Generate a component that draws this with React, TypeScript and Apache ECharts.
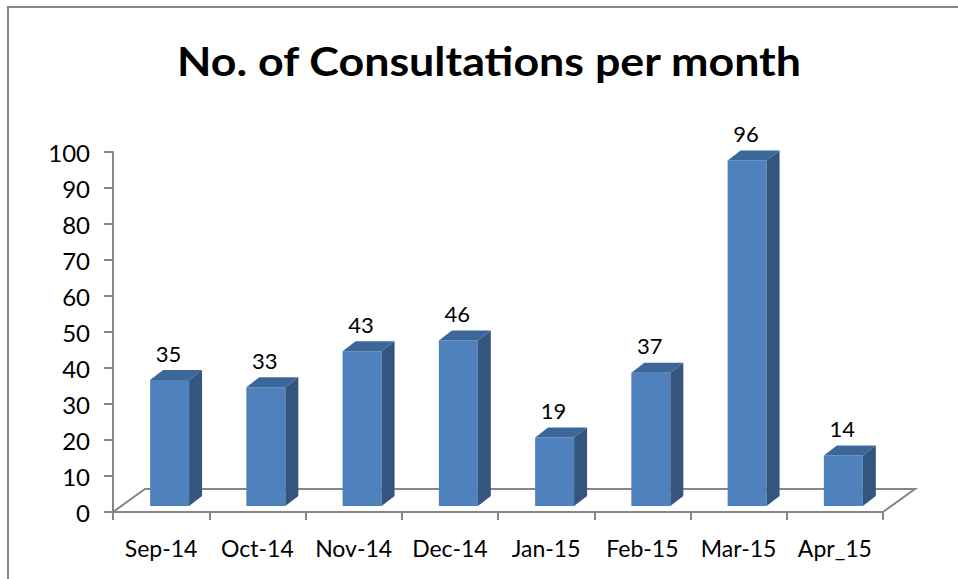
import React, { useEffect, useRef } from "react";
import * as echarts from "echarts";

const categories = ["Sep-14", "Oct-14", "Nov-14", "Dec-14", "Jan-15", "Feb-15", "Mar-15", "Apr_15"];
const consultations = [35, 33, 43, 46, 19, 37, 96, 14];
const yMin = 0;
const yMax = 100;
const yInterval = 10;
const titleText = "No. of Consultations per month";

const FONT = "Lato, 'Open Sans', sans-serif";
const GRAY = "#868686";

export default function App() {
  const ref = useRef<HTMLDivElement>(null);
  useEffect(() => {
    const chart = echarts.init(ref.current!, null, { renderer: "svg" });
    const depthX = 32;
    const depthY = 23;
    chart.setOption({
      animation: false,
      backgroundColor: "#ffffff",
      graphic: [
        {
          type: "rect",
          shape: { x: 8, y: 7, width: 980, height: 620 },
          style: { fill: "none", stroke: GRAY, lineWidth: 2 },
          silent: true,
        },
        {
          type: "text",
          x: 489,
          y: 60,
          scaleX: 1.12,
          silent: true,
          style: {
            text: titleText,
            align: "center",
            verticalAlign: "middle",
            fontFamily: FONT,
            fontWeight: "bold",
            fontSize: 40,
            fill: "#000",
          },
        },
      ],
      grid: { left: 113, right: 75, top: 152, bottom: 67, containLabel: false },
      xAxis: {
        type: "category",
        data: categories,
        boundaryGap: true,
        axisLine: { show: true, lineStyle: { color: GRAY, width: 2 } },
        axisTick: { show: true, length: 8, interval: 0, alignWithLabel: false, lineStyle: { color: GRAY, width: 2 } },
        axisLabel: { interval: 0, margin: 24, color: "#000", fontFamily: FONT, fontSize: 23 },
      },
      yAxis: {
        type: "value",
        min: yMin,
        max: yMax,
        interval: yInterval,
        axisLine: { show: true, lineStyle: { color: GRAY, width: 2 } },
        axisTick: { show: true, length: 9, lineStyle: { color: GRAY, width: 2 } },
        axisLabel: { margin: 23, color: "#000", fontFamily: FONT, fontSize: 24 },
        splitLine: { show: false },
      },
      series: [
        {
          type: "custom",
          name: "floor",
          data: [[0, 0]],
          clip: false,
          silent: true,
          z: 1,
          renderItem: (params: any) => {
            const cs = params.coordSys;
            const l = cs.x;
            const r = cs.x + cs.width;
            const b = cs.y + cs.height;
            return {
              type: "polyline",
              shape: {
                points: [
                  [l, b],
                  [l + depthX, b - depthY],
                  [r + depthX, b - depthY],
                  [r, b],
                ],
              },
              style: { fill: "none", stroke: GRAY, lineWidth: 2 },
            };
          },
        },
        {
          type: "custom",
          name: "No. of Consultations",
          data: consultations.map((v, i) => [i, v]),
          clip: false,
          z: 3,
          renderItem: (params: any, api: any) => {
            const i = api.value(0);
            const v = api.value(1);
            const base = api.coord([i, 0]);
            const top = api.coord([i, v]);
            const band = api.size([1, 0])[0];
            const w = band * 0.405;
            const shiftX = band * 0.088;
            const shiftY = 6;
            const dx = 13;
            const dy = 10;
            const cx = base[0] + shiftX;
            const x0 = cx - w / 2;
            const x1 = cx + w / 2;
            const yb = base[1] - shiftY;
            const yt = top[1] - shiftY;
            return {
              type: "group",
              children: [
                {
                  type: "rect",
                  shape: { x: x0, y: yt, width: w, height: yb - yt },
                  style: { fill: "#4F81BD" },
                },
                {
                  type: "polygon",
                  shape: { points: [[x1, yb], [x1 + dx, yb - dy], [x1 + dx, yt - dy], [x1, yt]] },
                  style: { fill: "#33557E" },
                },
                {
                  type: "polygon",
                  shape: { points: [[x0, yt], [x0 + dx, yt - dy], [x1 + dx, yt - dy], [x1, yt]] },
                  style: { fill: "#3B679B" },
                },
                {
                  type: "text",
                  style: {
                    text: String(v),
                    x: cx - 1,
                    y: yt - 27,
                    align: "center",
                    verticalAlign: "middle",
                    fontFamily: FONT,
                    fontSize: 22,
                    fill: "#000",
                  },
                },
              ],
            };
          },
        },
      ],
    });
    return () => chart.dispose();
  }, []);
  return <div ref={ref} style={{ position: "fixed", left: 0, top: 0, width: 958, height: 579 }} />;
}
